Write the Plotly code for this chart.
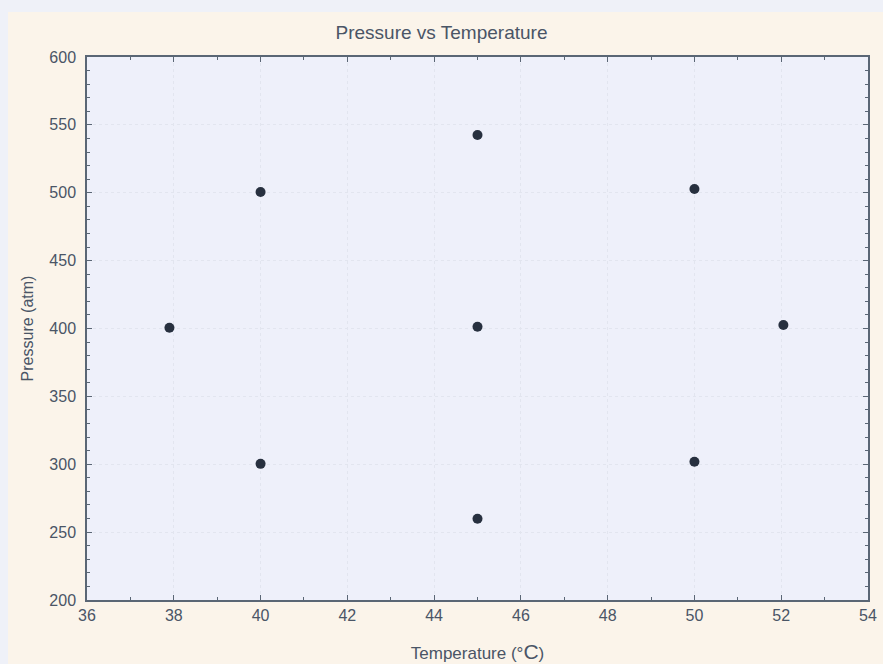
import plotly.graph_objects as go

temperature = [37.9, 40, 40, 45, 45, 45, 50, 50, 52.05]
pressure = [400.5, 500.5, 300.3, 542.5, 401.3, 259.8, 502.8, 301.8, 402.6]

x_ticks = [36, 38, 40, 42, 44, 46, 48, 50, 52, 54]
y_ticks = [200, 250, 300, 350, 400, 450, 500, 550, 600]

axis_col = "#5a6675"
txt_col = "#4a5566"
edge_col = "#eff1f8"

fig = go.Figure()
fig.add_trace(go.Scatter(
    x=temperature, y=pressure, mode="markers",
    marker=dict(size=10, color="#27303f"),
    showlegend=False,
))

# bluish scan edge on the left and top
fig.add_shape(type="rect", xref="paper", yref="paper", layer="below",
              x0=-0.2, x1=-0.1012, y0=-0.2, y1=1.2,
              fillcolor=edge_col, line=dict(width=0))
fig.add_shape(type="rect", xref="paper", yref="paper", layer="below",
              x0=-0.2, x1=1.2, y0=1.083, y1=1.2,
              fillcolor=edge_col, line=dict(width=0))

fig.update_layout(
    width=883, height=664,
    margin=dict(l=87, r=15, t=57, b=64),
    paper_bgcolor="#fbf4ea",
    plot_bgcolor="#eef0fa",
    font=dict(family="Liberation Sans, Arial, sans-serif", color=txt_col),
    title=dict(text="Pressure vs Temperature", x=0.5, xanchor="center",
               y=0.952, yanchor="middle", font=dict(size=19, color=txt_col)),
)

fig.update_xaxes(
    range=[36, 54], tickvals=x_ticks, ticktext=[str(v) for v in x_ticks],
    ticks="inside", ticklen=5, tickcolor=axis_col,
    minor=dict(dtick=1, ticks="inside", ticklen=3, tickcolor=axis_col, showgrid=False),
    showline=True, linecolor=axis_col, linewidth=1.5, mirror="ticks",
    showgrid=True, gridcolor="#e2e5ef", griddash="dot", gridwidth=1,
    zeroline=False, automargin=False,
    tickfont=dict(size=16, color=txt_col),
    title=dict(text="Temperature (°<span style='font-size:21px'>C</span>)",
               font=dict(size=17, color=txt_col), standoff=24),
)
fig.update_yaxes(
    range=[200, 600], tickvals=y_ticks, ticktext=[str(v) for v in y_ticks],
    ticks="inside", ticklen=5, tickcolor=axis_col,
    minor=dict(dtick=10, ticks="inside", ticklen=3, tickcolor=axis_col, showgrid=False),
    showline=True, linecolor=axis_col, linewidth=1.5, mirror="ticks",
    showgrid=True, gridcolor="#e2e5ef", griddash="dot", gridwidth=1,
    zeroline=False, ticklabelstandoff=6, automargin=False,
    tickfont=dict(size=16, color=txt_col),
    title=dict(text="Pressure (atm)", font=dict(size=16, color=txt_col), standoff=12),
)

fig.write_html("out.html")
